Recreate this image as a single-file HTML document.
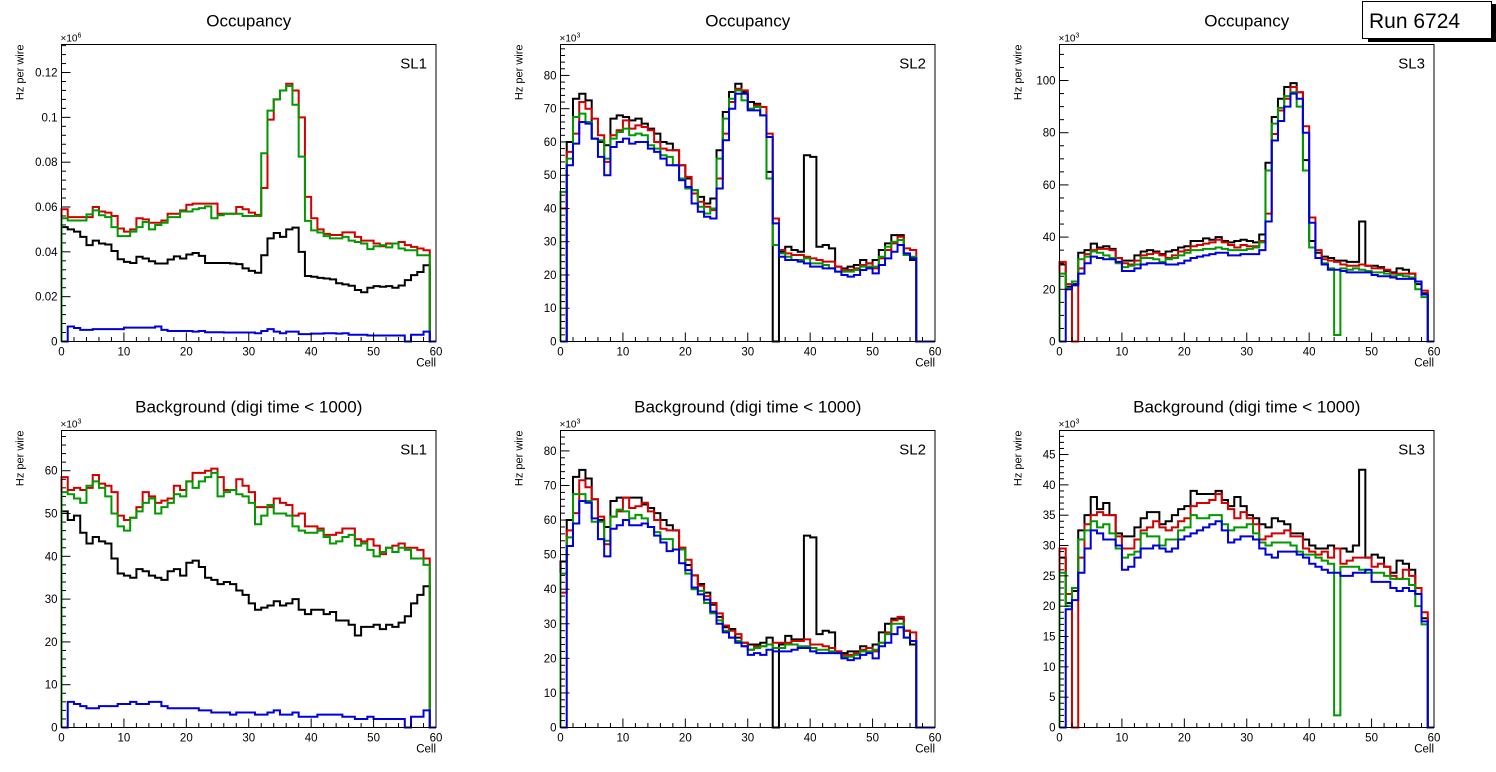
<!DOCTYPE html>
<html><head><meta charset="utf-8">
<style>
html,body{margin:0;padding:0;background:#fff;}
svg{display:block;font-family:"Liberation Sans",Arial,sans-serif;}
</style></head>
<body>
<svg id="fig" width="1496" height="772" viewBox="0 0 1496 772" xmlns="http://www.w3.org/2000/svg">
<rect x="0" y="0" width="1496" height="772" fill="#fff"/>
<g>
<rect x="1368" y="4" width="128" height="38" fill="#000"/>
<rect x="1362.5" y="1.5" width="129" height="37" fill="#fff" stroke="#000" stroke-width="1"/>
<text x="1369" y="28" font-size="21" fill="#000">Run 6724</text>
</g>
</svg>
<script>
const binEdges = [0, 60];
const p1Black = [51,50,49,46.7,43,45,43.7,43.3,40.4,36.7,35.5,35,37.8,37,35.8,34.8,34.8,36.6,38,37,38.8,39.5,38.2,35,35,35,35,34.8,34.5,32.6,31.5,30.7,38.5,46,48.4,46.7,50,50.8,40,29.2,28.9,28.4,28.1,27.7,26,25.5,24.9,23,22,24,24.7,24.4,24.7,24,25,27.4,29.6,31,34,0];
const p1Red = [59,55.5,55.5,55.5,55.5,60,58,57.5,56,50.4,49,50,55,54.5,53,53,54,57,57,58.5,61,61.5,61.5,61.5,61.5,57,57,57,60,59,57.5,56.5,68.5,99,108,112,115,112,100,64.5,55,50,48,47.5,47.5,48.7,48.7,46.7,45,45,43.7,42.5,43.7,43.7,44.4,43,42.2,41.5,40.7,0];
const p1Green = [55,54,54,54,56.7,58.5,56.3,55.5,51,47,47,49,51,53.3,50,52,53,55.5,55.5,58,58,59,59.5,60.3,55,56.3,57,57,57,56,56,56,84,103,108,112,114,105.6,82.5,53.8,49.6,48.6,47,46,46,46.7,45,44.4,43.7,41.2,42.5,43,42,43.7,41.5,40.7,40.7,38.5,38.5,0];
const p1Blue = [0,6.7,6,5.2,5.2,5.5,5.5,5.5,5.5,5.5,6.2,6.2,6.2,6.2,6.2,6.7,5.2,4.7,4.7,4.7,4.7,4.4,4.7,4.1,4.1,4.1,4,4,4,4,4,3.7,4.7,5.5,4.4,3.7,4.4,4.4,3.3,3.3,3.5,3.5,3.7,3.7,3.5,3.7,3,3,3,2.7,2.7,2.7,2.7,2.7,2.7,0,3,3,4.4,0];

const p2Black = [0,60,73,74.5,72.5,61,60,59,67,68,67.5,66.5,67,65.5,64,62.5,60,59.5,57.5,53,49,45.5,43.5,41.5,43,57.5,69,75,77.5,75,72,71.5,70.5,51,0,27,28.5,27.5,27,56,55.5,28.5,29,28,22.5,22,22.5,23,24.5,23.5,24.5,27.5,29.5,32,32,26,24.5,0,0,0];
const p2Red = [40,57,62.5,72,70,67,62,54,62,63.5,66.5,64,65,64.5,63.5,60,58,57.5,57.5,53,49.5,44.5,42,40.5,39.5,49,62.5,72,76,75.5,70,71,70.5,62.5,37,27.5,26.5,26,26,25.5,25,24.5,24,24,22.5,21.5,21.5,22,23,23.5,22,25,27.5,29.5,31.5,28,27.5,0,0,0];
const p2Green = [45,55,67.5,68.5,66,61,60.5,55,61,63,64,62,62.5,62,59,58,56,55.5,53,49,46,45.5,40.5,38.5,40,55,67,73,75.5,72.5,70,70.5,68,49,29,26.5,25.5,24.5,24.5,25,23.5,23.5,23,22,21,21,21,21.5,22.5,22.5,22.5,25.5,28.5,30,30.5,26,25.5,0,0,0];
const p2Blue = [0,53,59.5,66,65.5,61,55.5,50,58.5,60,61,59.5,60,60,58,57,55,53,53,48.5,46.5,41.5,39,37.5,37,46,60.5,70,74.5,74.5,69.5,69.5,68,61.5,35.5,25.5,24.5,24.5,24,23.5,22.5,22.5,22,22,21,20,19.5,20,21.5,22,20.5,23,25,27,29,26.5,25,0,0,0];

const p3Black = [29.5,21,22,34,35,37.5,36,36.5,35.5,32,31,31,33,34.5,35,34.5,33.5,34.5,35,36,36.5,38.5,38.5,39.5,39,40,38.5,38,38.5,39,38.5,38,41,68.5,86,93,97.5,99,95.5,69.5,38.5,34,32.5,32,31,31,30.5,30.5,46,29,29,28.5,27,26.5,28,27.5,26,22,18.5,0];
const p3Red = [30.5,22,0,28,33.5,35,35.5,35.5,35,32,30,29.5,31,33,33.5,34,33,32,33,34.5,35,36.5,37,37.5,38,39,38,37,36,37,36.5,36.5,38.5,49,79.5,88.5,93,97.5,95.5,82.5,47.5,35,31.5,31,30.5,29.5,29,29,29.5,29,28,28,27.5,26,26,26,26,23,19.5,0];
const p3Green = [26,20,23,31.5,32.5,34.5,34,33,32,30,28.5,29,29.5,32,32,31.5,30.5,31.5,32,33,34,35,35,35.5,35.5,36,35.5,35,35,35,35.5,36,38,65.5,83.5,89.5,94,95.5,90,65.5,36,32,30,28,2.5,28,27.5,28,27.5,27,26.5,26.5,26,25,25.5,25,24.5,20,17,0];
const p3Blue = [0,20,21.5,26,30,32.5,32,31.5,31.5,30.5,27,27,28,29.5,30,30,30,29.5,29.5,30,31,32,32.5,33,33.5,34,34,33,33,33.5,33.5,33.5,35,46,77,84.5,90,95,93,80,45.5,32,29.5,27.5,27.5,27,26.5,26.5,26.5,26.5,25.5,25,25,24.5,24,24,24,23,18,0];

const p4Black = [50.5,48.5,49.5,45.5,43,44.5,43.5,43,39.5,36,35.5,35,37,36.5,35.5,35,34.5,36.5,37,35.5,38.5,39,37.5,35,34.5,33.5,34,33.5,32,31,29,27.5,28,28.5,29.5,28.5,29,30,27.5,26.5,27.5,27.5,26.5,27,25,25,24,21.5,23.5,23.5,24,23,24,23.5,24.5,26,29,31,33,0];
const p4Red = [58.5,55.5,56,55.5,56,59,57,56.5,55,49.5,48.5,49,51.5,55,54,52.5,53,53.5,56.5,55.5,57.5,59.5,59.5,60,60.5,58.5,55.5,55.5,58,56.5,55,51.5,51.5,51.5,53.5,52.5,52,49.5,50,47,47,46.5,45,45,45.5,46.5,46.5,44,43.5,44,42.5,40.5,42,42.5,43,42,42,41.5,39.5,0];
const p4Green = [55,54.5,53.5,52.5,56.5,57.5,56,54,50,47,46,49,50.5,52.5,53.5,50,51.5,52.5,54.5,54,57.5,56,57.5,58.5,59.5,54,55,55.5,54.5,54,52.5,47.5,49.5,52,50,50,49.5,47,46,45.5,45.5,46,44.5,43,43.5,44.5,45,42.5,43,41.5,40,41,42,41,42,41.5,39.5,39.5,38,0];
const p4Blue = [0,6,5.5,5,4.5,4.5,5,5,5,5.5,5.5,6,5.5,5.5,6,6,5,4.5,4.5,4.5,4.5,4.5,4,4,3.5,3.5,3.5,3,3.5,3.5,3.5,3,3,3.5,4,3,3,3.5,2.5,2.5,2.5,3,3,3,3,2.5,2.5,2,2,2.5,2,2,2,2,2,0,2.5,2.5,4,0];

const p5Black = [48,60,72.5,74.5,72,66,60,58,65.5,66.5,66.5,66.5,66.5,64.5,63.5,62,60,58.5,57,52,47,44,41.5,39,35.5,32,29,28.5,26,24.5,24,24,24.5,26,0,24,26.5,25.5,25.5,55.5,55,27,28,27.5,22,21.5,22,22,23.5,23,24,27.5,30,31.5,31.5,28,24,0,0,0];
const p5Red = [39,57,62,71.5,69.5,66,61,53,61,62.5,66.5,63.5,64,65,62.5,60,57.5,57,57,52,48.5,44,41,38,36,33,29.5,28,27,24.5,22.5,23.5,23.5,24,24.5,24.5,24.5,25,25,25.5,24,24,23.5,23,22,21,21,21.5,22.5,23,22,24.5,27.5,31,32,28,27.5,0,0,0];
const p5Green = [44.5,55,67.5,67.5,65.5,59.5,59.5,54,61,63,62.5,60.5,61.5,60.5,58,56.5,54.5,54.5,51.5,51.5,44.5,40,39.5,36,33,31,28,26,25,23.5,22.5,23,23.5,24,23,23,24,24,23.5,23.5,23,22.5,22.5,22,21.5,20.5,20.5,21,22,22,22.5,24.5,27,30,30,26,25,0,0,0];
const p5Blue = [0,52.5,59,65.5,65,60.5,54.5,49.5,57.5,58.5,60,58.5,58.5,59,58,55.5,53.5,51,51.5,47.5,45.5,40.5,38.5,37,33.5,30,27.5,26,24.5,23.5,21,21.5,21,22.5,22,22,22,22.5,23,23,22,21.5,21.5,21.5,21.5,20,19.5,20,21,21.5,20,23.5,24.5,27,29,26,25,0,0,0];

const p6Black = [28,20.5,22.5,32.5,35,38,36,37,35,32,31.5,31.5,33,34.5,35.5,35.5,33.5,34,35,36,36.5,39,38.5,38.5,38.5,39,37.5,36.5,38,36.5,35,34.5,33.5,33,34.5,34,33.5,32,32,31,30,29.5,29.5,30,29.5,29.5,29,30,42.5,28,28.5,28,26.5,25.5,27.5,27,26,22,18,0];
const p6Red = [29.5,22,0,28,33.5,35,35.5,35,35,31.5,29.5,29.5,31,32.5,33,34,33,32.5,33,34,34.5,36.5,37,37,37.5,38.5,37,36,34.5,35.5,34.5,33.5,31,31.5,32,32,32.5,31.5,31.5,29.5,29,28.5,29,28,29.5,27,27.5,28,28,28,26.5,27,26.5,25,24.5,26,25,23,19,0];
const p6Green = [25.5,20,23,31,32.5,34,33,33.5,32,29.5,28,28.5,29,32,31.5,31.5,30,31,31,32.5,33,35,34.5,34.5,35,35,33.5,32.5,33,33,33.5,32,30.5,30,30.5,30.5,30.5,30,29,28.5,28.5,28,27.5,27,2,26.5,26.5,26.5,26,25.5,25.5,25.5,25,24.5,24.5,24.5,23.5,20,17,0];
const p6Blue = [0,19.5,21,25.5,29.5,32.5,32,31,31,30,26,26.5,28,29.5,29.5,30,29.5,29,29.5,31,31.5,32,32.5,33,33.5,34,32.5,30.5,31,31.5,31.5,31,29.5,28.5,28,29,29,29,28.5,28,27,26.5,26,25.5,25.5,25,25,25.5,25.5,26,24,24,24,23,22.5,23,22.5,22,17.5,0];

const xTickValues = [0,10,20,30,40,50,60];
const xTickLabels = ["0","10","20","30","40","50","60"];
const p1TickValues = [0,20,40,60,80,100,120];
const p1TickLabels = ["0","0.02","0.04","0.06","0.08","0.1","0.12"];
const p2TickValues = [0,10,20,30,40,50,60,70,80];
const p3TickValues = [0,20,40,60,80,100];
const p4TickValues = [0,10,20,30,40,50,60];
const p5TickValues = [0,10,20,30,40,50,60,70,80];
const p6TickValues = [0,5,10,15,20,25,30,35,40,45];

const NS = "http://www.w3.org/2000/svg";
const svg = document.getElementById("fig");
const colors = ["#000000","#d40000","#009a00","#0000dd"];
const seriesNames = ["black","red","green","blue"];
const panels = [
 {id:"occupancy-sl1",x:61.5,y:44.5,ymax:132.5,minor:5,title:"Occupancy",sl:"SL1",exp:"6",series:[p1Black,p1Red,p1Green,p1Blue],ticks:p1TickValues,labels:p1TickLabels},
 {id:"occupancy-sl2",x:560.5,y:44.5,ymax:89.3,minor:5,title:"Occupancy",sl:"SL2",exp:"3",series:[p2Black,p2Red,p2Green,p2Blue],ticks:p2TickValues},
 {id:"occupancy-sl3",x:1059.5,y:44.5,ymax:113.8,minor:4,title:"Occupancy",sl:"SL3",exp:"3",series:[p3Black,p3Red,p3Green,p3Blue],ticks:p3TickValues},
 {id:"background-sl1",x:61.5,y:430.5,ymax:69.4,minor:5,title:"Background (digi time < 1000)",sl:"SL1",exp:"3",series:[p4Black,p4Red,p4Green,p4Blue],ticks:p4TickValues},
 {id:"background-sl2",x:560.5,y:430.5,ymax:85.9,minor:5,title:"Background (digi time < 1000)",sl:"SL2",exp:"3",series:[p5Black,p5Red,p5Green,p5Blue],ticks:p5TickValues},
 {id:"background-sl3",x:1059.5,y:430.5,ymax:48.96,minor:5,title:"Background (digi time < 1000)",sl:"SL3",exp:"3",series:[p6Black,p6Red,p6Green,p6Blue],ticks:p6TickValues}
];
const W = 374.5, H = 297;

function mk(tag, attrs, parent){
  const e = document.createElementNS(NS, tag);
  for (const k in attrs) e.setAttribute(k, attrs[k]);
  parent.appendChild(e);
  return e;
}

panels.forEach(p => {
  const g = mk("g", {}, svg);
  
  
  const xs = v => p.x + (v - binEdges[0]) / (binEdges[1] - binEdges[0]) * W;
  const ys = v => p.y + H - v / p.ymax * H;

  const t = mk("text", {x: p.x + W/2, y: p.y - 18, "text-anchor":"middle", "font-size":"17"}, g);
  t.textContent = p.title;
  
  

  p.series.forEach((vals, si) => {
    let d = "M" + xs(0) + "," + ys(0);
    const n = vals.length;
    const bw = (binEdges[1]-binEdges[0]) / n;
    for (let i = 0; i < n; i++) {
      const y = ys(vals[i]);
      d += " L" + xs(i*bw).toFixed(2) + "," + y.toFixed(2) + " L" + xs((i+1)*bw).toFixed(2) + "," + y.toFixed(2);
    }
    d += " L" + xs(binEdges[1]) + "," + ys(0);
    const path = mk("path", {d: d, fill:"none", stroke: colors[si], "stroke-width":"2", "stroke-linejoin":"miter"}, g);
    
    
  });

  const fr = mk("rect", {x:p.x, y:p.y, width:W, height:H, fill:"none", stroke:"#000", "stroke-width":"1"}, g);
  
  

  const xt = mk("g", {stroke:"#000","stroke-width":"1"}, g);
  
  
  for (let v = 0; v <= 60; v += 2) {
    const len = (v % 10 === 0) ? 9 : 4.5;
    mk("line", {x1: xs(v), x2: xs(v), y1: p.y+H, y2: p.y+H-len}, xt);
  }
  xTickValues.forEach((v, i) => {
    const tl = mk("text", {x: xs(v), y: p.y+H+14, "text-anchor":"middle", "font-size":"11.5"}, g);
    tl.textContent = xTickLabels[i];
    
    
  });
  const xl = mk("text", {x: p.x+W, y: p.y+H+25, "text-anchor":"end", "font-size":"11.5"}, g);
  xl.textContent = "Cell";
  
  

  const yt = mk("g", {stroke:"#000","stroke-width":"1"}, g);
  
  
  const step = p.ticks[1] - p.ticks[0];
  const mstep = step / p.minor;
  for (let k = 0; k * mstep <= p.ymax + 1e-9; k++) {
    const v = k * mstep;
    const len = (k % p.minor === 0) ? 9 : 4.5;
    mk("line", {x1: p.x, x2: p.x+len, y1: ys(v), y2: ys(v)}, yt);
  }
  p.ticks.forEach((v, i) => {
    const tl = mk("text", {x: p.x-4, y: ys(v)+4, "text-anchor":"end", "font-size":"11.5"}, g);
    tl.textContent = p.labels ? p.labels[i] : String(v);
    
    
  });
  const yl = mk("text", {x: 0, y: 0, "text-anchor":"end", "font-size":"11", transform: "translate(" + (p.x-38) + "," + (p.y) + ") rotate(-90)"}, g);
  yl.textContent = "Hz per wire";
  
  

  const ex = mk("text", {x: p.x-1, y: p.y-3, "font-size":"10"}, g);
  ex.textContent = "\u00d710";
  const sup = mk("tspan", {dy:"-4", "font-size":"7"}, ex);
  sup.textContent = p.exp;
  
  

  const sl = mk("text", {x: p.x+W-9, y: p.y+24, "text-anchor":"end", "font-size":"15"}, g);
  sl.textContent = p.sl;
  
  
});
</script>
</body></html>
